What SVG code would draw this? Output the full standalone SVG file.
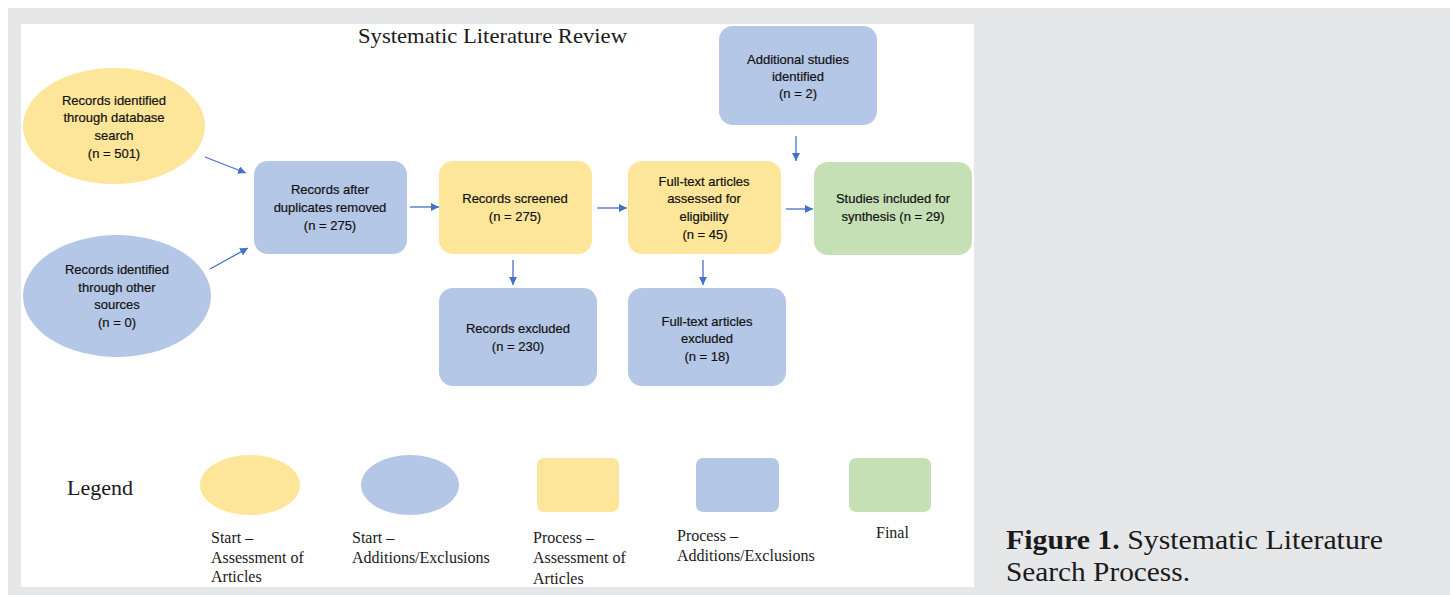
<svg xmlns="http://www.w3.org/2000/svg" width="1450" height="595" viewBox="0 0 1450 595">
<defs>
<style>
.n{font-family:"Liberation Sans",Arial,sans-serif;font-size:13px;fill:#111;stroke:#111;stroke-width:0.2;text-anchor:middle}
.s{font-family:"Liberation Serif","Times New Roman",serif;fill:#1a1a1a}
.l{font-size:16px}
.y{fill:#fde699}
.b{fill:#b4c7e7}
.g{fill:#c5e0b4}
.c{stroke:#4472c4;stroke-width:1.3;fill:none;marker-end:url(#ah)}
</style>
<marker id="ah" viewBox="0 0 10 10" refX="10" refY="5" markerWidth="8" markerHeight="8" markerUnits="userSpaceOnUse" orient="auto">
<path d="M0,0 L10,5 L0,10 z" fill="#4472c4"/>
</marker>
</defs>
<rect x="0" y="0" width="1450" height="595" fill="#ffffff"/>
<rect x="8" y="8" width="1442" height="587" fill="#e6e7e9"/>
<rect x="21" y="24" width="953" height="563" fill="#ffffff"/>
<text class="s" x="358" y="43" font-size="22" textLength="269" lengthAdjust="spacingAndGlyphs">Systematic Literature Review</text>

<g id="connectors">
<line class="c" x1="205" y1="157" x2="246" y2="173"/>
<line class="c" x1="210" y1="269" x2="248" y2="248"/>
<line class="c" x1="410" y1="207" x2="439" y2="207"/>
<line class="c" x1="597" y1="208" x2="627" y2="208"/>
<line class="c" x1="786" y1="209" x2="813" y2="209"/>
<line class="c" x1="513" y1="260" x2="513" y2="285"/>
<line class="c" x1="703" y1="260" x2="703" y2="285"/>
<line class="c" x1="796" y1="136" x2="796" y2="161"/>
</g>

<g id="db-search">
<ellipse class="y" cx="114" cy="126" rx="91" ry="58"/>
<text class="n" x="114" y="105">Records identified</text>
<text class="n" x="114" y="122">through database</text>
<text class="n" x="114" y="140">search</text>
<text class="n" x="114" y="158">(n = 501)</text>
</g>

<g id="other-sources">
<ellipse class="b" cx="117" cy="296" rx="94" ry="61"/>
<text class="n" x="117" y="274">Records identified</text>
<text class="n" x="117" y="292">through other</text>
<text class="n" x="117" y="309">sources</text>
<text class="n" x="117" y="327">(n = 0)</text>
</g>

<g id="duplicates-removed">
<rect class="b" x="254" y="161" width="153" height="93" rx="14"/>
<text class="n" x="330" y="194">Records after</text>
<text class="n" x="330" y="212">duplicates removed</text>
<text class="n" x="330" y="230">(n = 275)</text>
</g>

<g id="screened">
<rect class="y" x="439" y="161" width="153" height="93" rx="14"/>
<text class="n" x="515" y="203">Records screened</text>
<text class="n" x="515" y="221">(n = 275)</text>
</g>

<g id="fulltext-assessed">
<rect class="y" x="628" y="161" width="153" height="93" rx="14"/>
<text class="n" x="704" y="186">Full-text articles</text>
<text class="n" x="704" y="203">assessed for</text>
<text class="n" x="704" y="221">eligibility</text>
<text class="n" x="705" y="239">(n = 45)</text>
</g>

<g id="records-excluded">
<rect class="b" x="439" y="288" width="158" height="98" rx="14"/>
<text class="n" x="518" y="333">Records excluded</text>
<text class="n" x="518" y="351">(n = 230)</text>
</g>

<g id="fulltext-excluded">
<rect class="b" x="628" y="288" width="158" height="98" rx="14"/>
<text class="n" x="707" y="326">Full-text articles</text>
<text class="n" x="707" y="343">excluded</text>
<text class="n" x="707" y="361">(n = 18)</text>
</g>

<g id="additional">
<rect class="b" x="719" y="26" width="158" height="99" rx="14"/>
<text class="n" x="798" y="64">Additional studies</text>
<text class="n" x="798" y="81">identified</text>
<text class="n" x="798" y="98">(n = 2)</text>
</g>

<g id="included">
<rect class="g" x="814" y="162" width="158" height="93" rx="14"/>
<text class="n" x="893" y="203">Studies included for</text>
<text class="n" x="893" y="221">synthesis (n = 29)</text>
</g>

<g id="legend">
<text class="s" x="67" y="495" font-size="22">Legend</text>
<ellipse class="y" cx="250" cy="485" rx="50" ry="30"/>
<ellipse class="b" cx="410" cy="485" rx="49" ry="30"/>
<rect class="y" x="537" y="458" width="82" height="54" rx="7"/>
<rect class="b" x="696" y="458" width="83" height="54" rx="7"/>
<rect class="g" x="849" y="458" width="82" height="54" rx="7"/>
<text class="s l" x="211" y="543">Start –</text>
<text class="s l" x="211" y="563">Assessment of</text>
<text class="s l" x="211" y="582">Articles</text>
<text class="s l" x="352" y="543">Start –</text>
<text class="s l" x="352" y="563">Additions/Exclusions</text>
<text class="s l" x="533" y="543">Process –</text>
<text class="s l" x="533" y="563">Assessment of</text>
<text class="s l" x="533" y="584">Articles</text>
<text class="s l" x="677" y="541">Process –</text>
<text class="s l" x="677" y="561">Additions/Exclusions</text>
<text class="s l" x="876" y="538">Final</text>
</g>

<g id="caption">
<text class="s" font-size="27" x="1006" y="549" textLength="377" lengthAdjust="spacingAndGlyphs"><tspan font-weight="bold">Figure 1.</tspan>  Systematic Literature</text>
<text class="s" font-size="27" x="1006" y="581" textLength="184" lengthAdjust="spacingAndGlyphs">Search Process.</text>
</g>
</svg>
